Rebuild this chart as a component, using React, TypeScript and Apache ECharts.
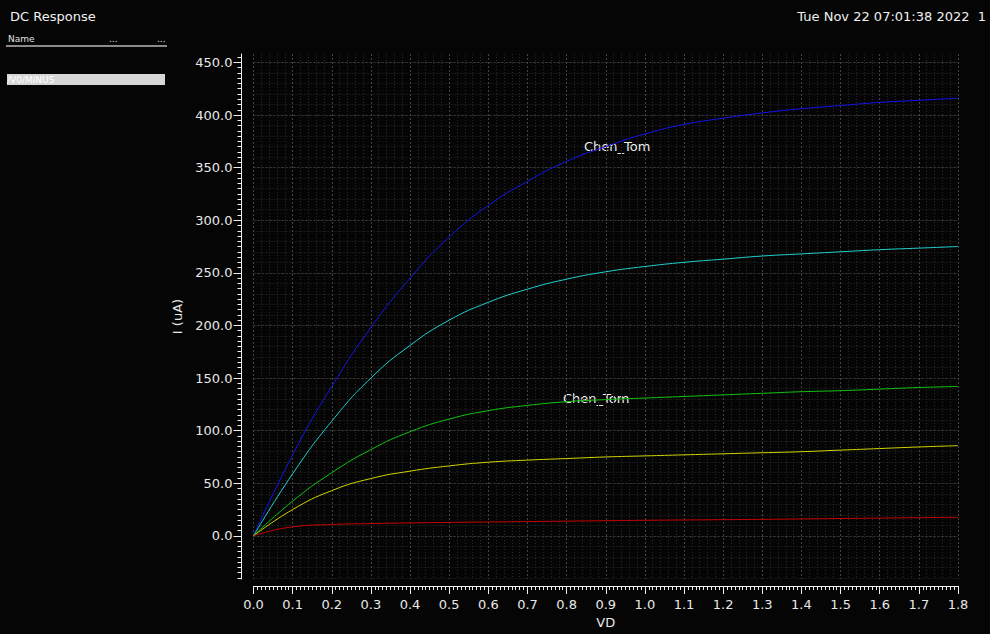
import React, { useEffect, useRef } from "react";
import * as echarts from "echarts";

const xs = [0, 0.1, 0.2, 0.3, 0.4, 0.5, 0.6, 0.7, 0.8, 0.9, 1.0, 1.1, 1.2, 1.3, 1.4, 1.5, 1.6, 1.7, 1.8];
const blueI = [0, 77, 142, 198, 245, 284, 314, 337, 356, 370, 382, 391, 397, 402, 406, 409, 412, 414, 416];
const cyanI = [0, 59, 109, 150, 181, 205, 222, 234.5, 244, 251, 256, 260, 263, 266, 268, 270, 272, 273.5, 275];
const greenI = [0, 33, 60, 82, 99, 111, 119, 124, 127.5, 129.5, 131, 132.5, 134, 135.5, 137, 138, 139.5, 141, 142];
const yellowI = [0, 25, 43, 54.5, 61.5, 66.5, 70, 72, 73.5, 75, 76, 77, 78, 79, 80, 81.5, 83, 84.5, 85.7];
const redI = [0, 8.6, 10.8, 11.7, 12.3, 12.8, 13.2, 13.6, 14, 14.4, 14.8, 15.1, 15.4, 15.7, 16.1, 16.5, 16.9, 17.3, 17.6];

const yMajorTicks = [0, 50, 100, 150, 200, 250, 300, 350, 400, 450];
const yMinorTicks: number[] = [];
for (let v = -40; v <= 455; v += 5) yMinorTicks.push(v);
const yGridLines: number[] = [];
for (let v = -40; v <= 450; v += 10) yGridLines.push(v);

const title = "DC Response";
const dateText = "Tue Nov 22 07:01:38 2022  1";
const traceName = "/V0/MINUS";
const annotation = "Chen_Tom";

const FONT = "DejaVu Sans";

export default function App() {
  const ref = useRef<HTMLDivElement>(null);
  useEffect(() => {
    document.body.style.margin = "0";
    const chart = echarts.init(ref.current!, null, { renderer: "svg" });
    const mk = (arr: number[]) => xs.map((x, i) => [x, arr[i]]);
    const lineS = (name: string, arr: number[], color: string) => ({
      name,
      type: "line",
      data: mk(arr),
      smooth: 0.5,
      showSymbol: false,
      lineStyle: { color, width: 1 },
      xAxisIndex: 0,
      yAxisIndex: 0,
    });
    const yBase = { type: "value", min: -41, max: 458, position: "left", offset: 12 };
    chart.setOption({
      animation: false,
      backgroundColor: "#050505",
      grid: { left: 253.5, right: 32, top: 54, bottom: 55 },
      xAxis: [
        {
          type: "value",
          min: 0,
          max: 1.8,
          interval: 0.1,
          position: "bottom",
          offset: 7,
          name: "VD",
          nameLocation: "middle",
          nameGap: 30,
          nameTextStyle: { color: "#e8e8e8", fontSize: 13, fontFamily: FONT },
          axisLine: { show: true, onZero: false, lineStyle: { color: "#f0f0f0", width: 1 } },
          axisTick: { show: true, length: 8, lineStyle: { color: "#f0f0f0" } },
          minorTick: { show: true, splitNumber: 10, length: 4, lineStyle: { color: "#f0f0f0" } },
          axisLabel: {
            color: "#e8e8e8",
            fontSize: 13,
            fontFamily: FONT,
            margin: 12,
            formatter: (v: number) => v.toFixed(1),
          },
          splitLine: { show: true, lineStyle: { color: "#444444", type: [2, 2], width: 1 } },
          minorSplitLine: { show: false },
        },
        {
          type: "value",
          min: 0,
          max: 1.8,
          interval: 0.1,
          position: "top",
          axisLine: { show: false, onZero: false },
          axisTick: { show: false },
          axisLabel: { show: false },
          splitLine: { show: false },
          minorTick: { show: false, splitNumber: 5 },
          minorSplitLine: { show: true, lineStyle: { color: "#292929", type: [1, 2], width: 1 } },
        },
      ],
      yAxis: [
        {
          ...yBase,
          name: "I (uA)",
          nameLocation: "middle",
          nameGap: 52,
          nameRotate: 90,
          nameTextStyle: { color: "#e8e8e8", fontSize: 13, fontFamily: FONT },
          axisLine: { show: true, onZero: false, lineStyle: { color: "#f0f0f0", width: 1 } },
          axisTick: { show: true, length: 8, customValues: yMajorTicks, lineStyle: { color: "#f0f0f0" } },
          axisLabel: {
            color: "#e8e8e8",
            fontSize: 13,
            fontFamily: FONT,
            margin: 9,
            customValues: yMajorTicks,
            formatter: (v: number) => v.toFixed(1),
          },
          splitLine: { show: true, lineStyle: { color: "#444444", type: [2, 2], width: 1 } },
        },
        {
          ...yBase,
          axisLine: { show: false, onZero: false },
          axisTick: { show: true, length: 4, customValues: yMinorTicks, lineStyle: { color: "#f0f0f0" } },
          axisLabel: { show: false },
          splitLine: { show: false },
        },
        {
          ...yBase,
          axisLine: { show: false, onZero: false },
          axisTick: { show: false, customValues: yGridLines },
          axisLabel: { show: false },
          splitLine: { show: true, lineStyle: { color: "#292929", type: [1, 2], width: 1 } },
        },
      ],
      series: [
        lineS("blue", blueI, "#1414ee"),
        lineS("cyan", cyanI, "#22d0d0"),
        lineS("green", greenI, "#10c410"),
        lineS("yellow", yellowI, "#d4d400"),
        lineS("red", redI, "#cc0000"),
      ],
      graphic: [
        { type: "text", left: 10, top: 10, style: { text: title, fill: "#f0f0f0", font: `13px ${FONT}` } },
        { type: "text", right: 4, top: 10, style: { text: dateText, fill: "#f0f0f0", font: `13px ${FONT}` } },
        { type: "text", left: 8, top: 34, style: { text: "Name", fill: "#e0e0e0", font: `9px ${FONT}` } },
        { type: "text", left: 109, top: 34, style: { text: "...", fill: "#e0e0e0", font: `9px ${FONT}` } },
        { type: "text", left: 157, top: 34, style: { text: "...", fill: "#e0e0e0", font: `9px ${FONT}` } },
        { type: "rect", shape: { x: 6, y: 45, width: 161, height: 2 }, style: { fill: "#8a8a8a" } },
        { type: "rect", shape: { x: 7, y: 74, width: 158, height: 11 }, style: { fill: "#d6d6d6" } },
        { type: "text", left: 7, top: 75, style: { text: traceName, fill: "#ffffff", font: `9px ${FONT}` } },
        { type: "text", left: 584, top: 140, style: { text: annotation, fill: "#f0f0f0", font: `13px ${FONT}` } },
        { type: "text", left: 563, top: 392, style: { text: annotation, fill: "#f0f0f0", font: `13px ${FONT}` } },
      ],
    });
    return () => chart.dispose();
  }, []);
  return <div ref={ref} style={{ position: "fixed", left: 0, top: 0, width: 990, height: 634 }} />;
}
